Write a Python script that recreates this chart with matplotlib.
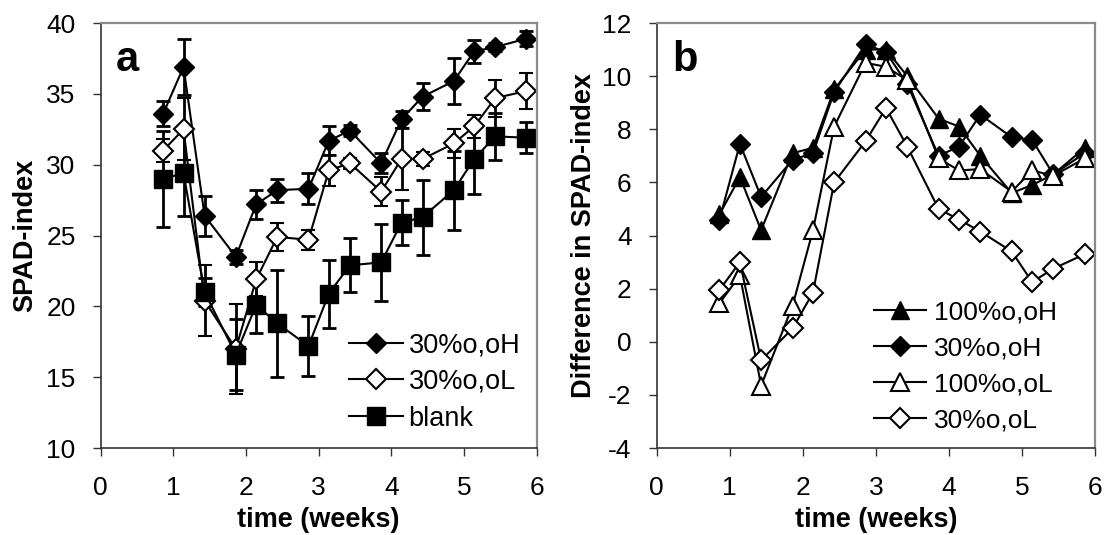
import numpy as np
import matplotlib
matplotlib.use("Agg")
import matplotlib.pyplot as plt

plt.rcParams['font.family'] = ['Liberation Sans', 'DejaVu Sans']
plt.rcParams['axes.unicode_minus'] = False

# sampling times (weeks)
weeks = [0.86, 1.14, 1.43, 1.86, 2.14, 2.43, 2.86, 3.14, 3.43, 3.86, 4.14, 4.43, 4.86, 5.14, 5.43, 5.86]

# panel a: SPAD-index with error bars
a_oH = [33.6, 36.9, 26.4, 23.5, 27.2, 28.2, 28.3, 31.7, 32.4, 30.1, 33.2, 34.8, 35.9, 38.0, 38.3, 38.9]
a_oH_err = [0.9, 2.0, 1.4, 0.5, 1.0, 0.8, 1.1, 1.0, 0.4, 0.7, 0.6, 0.95, 1.65, 0.8, 0.3, 0.55]
a_oL = [31.0, 32.5, 20.4, 17.0, 21.9, 24.9, 24.7, 29.6, 30.1, 28.1, 30.4, 30.4, 31.5, 32.7, 34.7, 35.2]
a_oL_err = [0.8, 2.2, 2.5, 3.2, 1.2, 1.0, 0.7, 1.1, 0.4, 1.0, 2.2, 0.5, 1.0, 0.8, 1.3, 1.3]
a_blank = [29.0, 29.4, 21.0, 16.6, 20.1, 18.8, 17.2, 20.9, 22.9, 23.1, 25.9, 26.3, 28.2, 30.4, 32.0, 31.9]
a_blank_err = [3.4, 3.0, 1.0, 2.5, 2.0, 3.8, 2.1, 2.4, 1.9, 2.7, 1.6, 2.65, 2.8, 2.5, 1.65, 1.1]

# panel b: difference in SPAD-index
b_100H = [4.8, 6.2, 4.2, 7.1, 7.3, 9.5, 11.0, 11.0, 10.0, 8.4, 8.1, 7.0, 5.6, 5.9, 6.3, 7.3]
b_30H = [4.6, 7.45, 5.45, 6.85, 7.1, 9.4, 11.2, 10.9, 9.7, 7.0, 7.35, 8.55, 7.7, 7.6, 6.3, 7.1]
b_100L = [1.45, 2.5, -1.65, 1.35, 4.2, 8.1, 10.5, 10.35, 9.85, 6.9, 6.45, 6.5, 5.65, 6.45, 6.25, 6.9]
b_30L = [1.95, 3.0, -0.7, 0.5, 1.85, 6.0, 7.55, 8.8, 7.35, 5.0, 4.6, 4.15, 3.4, 2.25, 2.75, 3.3]

fs = 19

fig = plt.figure(figsize=(11.04, 5.35), dpi=100)
ax1 = fig.add_axes([0.0912, 0.1626, 0.3949, 0.7944])
ax2 = fig.add_axes([0.5948, 0.1626, 0.3970, 0.7944])


def style(ax):
    for s in ['top', 'right']:
        ax.spines[s].set_color('#8a8a8a')
        ax.spines[s].set_linewidth(1.6)
    for s in ['left', 'bottom']:
        ax.spines[s].set_color('#333333')
        ax.spines[s].set_linewidth(1.2)
    ax.tick_params(direction='out', length=6, width=1, labelsize=fs,
                   top=False, right=False, color='#333333')
    ax.tick_params(axis='x', pad=14)
    ax.tick_params(axis='y', pad=12)
    ax.set_xlim(0, 6)
    ax.set_xticks(range(0, 7))


lw = 1.5
ekw = dict(elinewidth=2, capsize=5, capthick=2, ecolor='black')

ax1.errorbar(weeks, a_oH, yerr=a_oH_err, color='black', lw=lw, marker='D', ms=10,
             mfc='black', mec='black', label='30%o,oH', **ekw)
ax1.errorbar(weeks, a_oL, yerr=a_oL_err, color='black', lw=lw, marker='D', ms=10,
             mfc='white', mec='black', mew=1.5, label='30%o,oL', **ekw)
ax1.errorbar(weeks, a_blank, yerr=a_blank_err, color='black', lw=lw, marker='s', ms=13,
             mfc='black', mec='black', label='blank', **ekw)
style(ax1)
ax1.set_ylim(10, 40)
ax1.set_yticks(range(10, 41, 5))
ax1.set_ylabel('SPAD-index', fontsize=fs + 0.5, fontweight='bold', labelpad=6)
ax1.set_xlabel('time (weeks)', fontsize=fs + 0.5, fontweight='bold', labelpad=5)
ax1.text(0.035, 0.96, 'a', transform=ax1.transAxes, fontsize=30, fontweight='bold',
         va='top', ha='left')
h, l = ax1.get_legend_handles_labels()
h = [x[0] for x in h]
ax1.legend(h, l, loc='lower right', frameon=False, fontsize=fs + 0.5, handlelength=2.0,
           handletextpad=0.2, labelspacing=0.4, borderaxespad=0.2,
           bbox_to_anchor=(1.0, 0.0))

ax2.plot(weeks, b_100H, color='black', lw=lw, marker='^', ms=13, mfc='black',
         mec='black', label='100%o,oH')
ax2.plot(weeks, b_30H, color='black', lw=lw, marker='D', ms=10, mfc='black',
         mec='black', label='30%o,oH')
ax2.plot(weeks, b_100L, color='black', lw=lw, marker='^', ms=13, mfc='white',
         mec='black', mew=1.5, label='100%o,oL')
ax2.plot(weeks, b_30L, color='black', lw=lw, marker='D', ms=10, mfc='white',
         mec='black', mew=1.5, label='30%o,oL')
style(ax2)
ax2.set_ylim(-4, 12)
ax2.set_yticks(range(-4, 13, 2))
ax2.set_ylabel('Difference in SPAD-index', fontsize=fs + 0.5, fontweight='bold', labelpad=4)
ax2.set_xlabel('time (weeks)', fontsize=fs + 0.5, fontweight='bold', labelpad=5)
ax2.text(0.035, 0.96, 'b', transform=ax2.transAxes, fontsize=30, fontweight='bold',
         va='top', ha='left')
ax2.legend(loc='lower right', frameon=False, fontsize=fs, handlelength=2.0,
           handletextpad=0.3, labelspacing=0.45, borderaxespad=0.2,
           bbox_to_anchor=(0.95, 0.0))

fig.savefig('out.png', dpi=100)
